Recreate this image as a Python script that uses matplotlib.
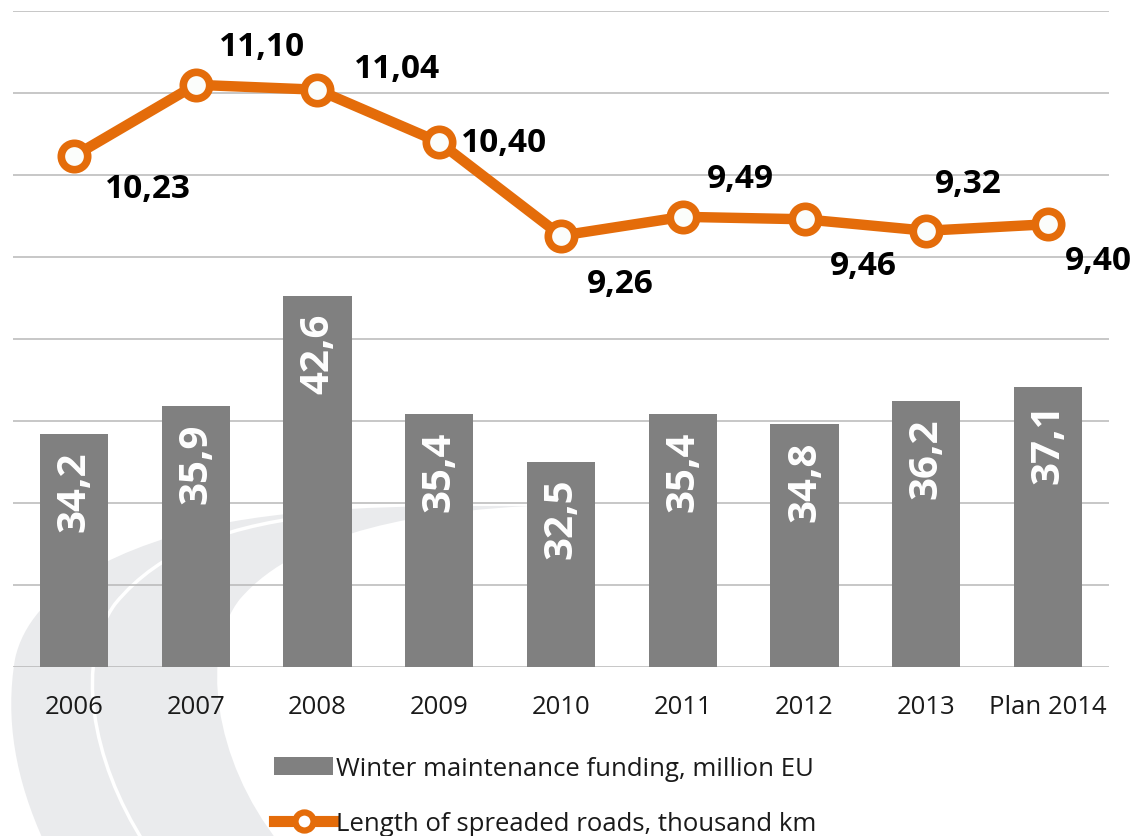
import matplotlib
matplotlib.use("Agg")
import matplotlib.pyplot as plt
from matplotlib.path import Path
from matplotlib.patches import PathPatch, Patch
from matplotlib.lines import Line2D

# ---------------- data ----------------
categories = ["2006", "2007", "2008", "2009", "2010", "2011", "2012", "2013", "Plan 2014"]
funding = [34.2, 35.9, 42.6, 35.4, 32.5, 35.4, 34.8, 36.2, 37.1]
roads = [10.23, 11.10, 11.04, 10.40, 9.26, 9.49, 9.46, 9.32, 9.40]
legend_labels = ["Winter maintenance funding, million EU",
                 "Length of spreaded roads, thousand km"]

# label offsets (pixels) for the line labels
road_label_offsets = [(74, -32), (66, 38), (80, 21), (65, 0), (59, -48),
                      (58, 38), (59, -46), (42, 47), (50, -36)]

W, H = 1135, 837
BAR_C = "#808080"
ORANGE = "#e46c0a"
GRID_C = "#b8b8b8"
SWOOSH_C = "#eaebed"

plt.rcParams["font.family"] = ["Open Sans", "DejaVu Sans"]

fig = plt.figure(figsize=(W / 100, H / 100), dpi=100)
fig.patch.set_facecolor("white")


def fp(x, y):
    return (x / W, 1 - y / H)


# ---------------- background swoosh decoration ----------------
pts = [(45, 845), (15, 780), (5, 720), (15, 660),
       (30, 590), (120, 545), (230, 523),
       (330, 505), (450, 507), (530, 507),
       (430, 512), (300, 530), (240, 600),
       (200, 650), (212, 760), (280, 845),
       (45, 845)]
codes = [Path.MOVETO] + [Path.CURVE4] * 15 + [Path.CLOSEPOLY]
fig.patches.append(PathPatch(Path([fp(*p) for p in pts], codes), facecolor=SWOOSH_C,
                             edgecolor="none", transform=fig.transFigure, zorder=-10))
spts = [(145, 845), (90, 760), (75, 660), (115, 605),
        (160, 550), (230, 525), (330, 515)]
scodes = [Path.MOVETO] + [Path.CURVE4] * 6
fig.patches.append(PathPatch(Path([fp(*p) for p in spts], scodes), facecolor="none",
                             edgecolor="white", lw=2.5, transform=fig.transFigure,
                             zorder=-9))

# ---------------- axes ----------------
left, right = 13 / W, 1109 / W
bottom, top = 1 - 668 / H, 1 - 12 / H
ax = fig.add_axes([left, bottom, right - left, top - bottom])
ax.set_facecolor("none")
x = list(range(len(categories)))

ax.bar(x, funding, width=0.56, color=BAR_C, zorder=2)
ax.set_ylim(20, 60)
ax.set_xlim(-0.5, len(categories) - 0.5)
ax.set_yticks(range(20, 61, 5))
ax.yaxis.grid(True, color=GRID_C, lw=1.1, zorder=0)
ax.set_axisbelow(True)
for s in ax.spines.values():
    s.set_visible(False)
ax.set_xticks(x)
ax.set_xticklabels(categories)

for xi, v in zip(x, funding):
    ax.annotate(f"{v:.1f}".replace(".", ","), (xi, v), xytext=(0, -16),
                textcoords="offset pixels", rotation=90, ha="center", va="top",
                color="white", fontsize=29, fontweight="bold", zorder=3)

ax2 = ax.twinx()
ax2.set_ylim(4, 12)
ax2.set_facecolor("none")
for s in ax2.spines.values():
    s.set_visible(False)
ax2.set_yticks([])
ax2.tick_params(axis="both", which="both", left=False, right=False,
                labelleft=False, labelright=False)
ax.tick_params(axis="y", which="both", left=False, right=False,
               labelleft=False, labelright=False)
ax.tick_params(axis="x", bottom=False, pad=16, labelsize=18.5, labelcolor="#1a1a1a")

ax2.plot(x, roads, color=ORANGE, lw=7.5, marker="o", ms=19, mfc="#fbfdfb",
         mec=ORANGE, mew=5.5, solid_joinstyle="round", zorder=4)

for xi, v, (dx, dy) in zip(x, roads, road_label_offsets):
    ax2.annotate(f"{v:.2f}".replace(".", ","), (xi, v), xytext=(dx, dy),
                 textcoords="offset pixels", ha="center", va="center",
                 color="black", fontsize=24, fontweight="bold", zorder=5)

# ---------------- legend ----------------
handles = [Patch(facecolor=BAR_C, edgecolor="none"),
           Line2D([], [], color=ORANGE, lw=8, marker="o", ms=13, mfc="white",
                  mec=ORANGE, mew=4.5)]
fig.legend(handles, legend_labels, loc="upper left",
           bbox_to_anchor=(274 / W, 1 - 757 / H), frameon=False, fontsize=18.5,
           handlelength=2.3, handletextpad=0.1, labelspacing=1.15,
           borderpad=0, borderaxespad=0, labelcolor="#1a1a1a")

fig.savefig("out.png", dpi=100, facecolor="white")
